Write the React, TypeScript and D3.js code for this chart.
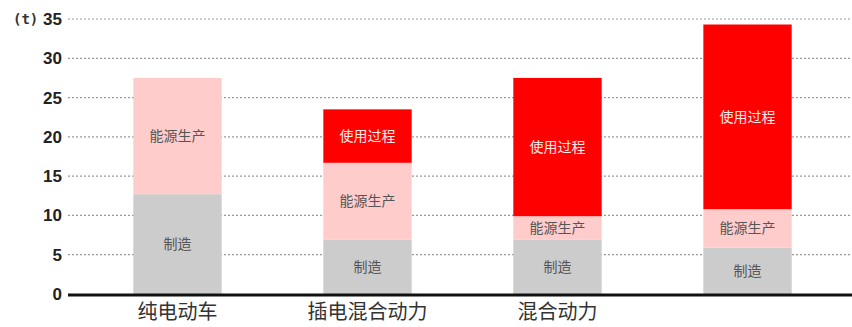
import React, { useRef, useEffect } from 'react';
import * as d3 from 'd3';

const categories = ['纯电动车', '插电混合动力', '混合动力', ''];
const seriesNames = ['制造', '能源生产', '使用过程'];
const manufacture = [12.7, 6.9, 6.9, 5.9];
const energy = [14.8, 9.8, 3.0, 4.9];
const usage = [0, 6.8, 17.6, 23.5];
const yTicks = [0, 5, 10, 15, 20, 25, 30, 35];
const colors = ['#cccccc', '#ffcccc', '#ff0000'];
const textColors = ['#555555', '#555555', '#ffe8e8'];

const App = () => {
  const svgRef = useRef<SVGSVGElement>(null);

  useEffect(() => {
    const width = 852;
    const svg = d3.select(svgRef.current);
    svg.selectAll('*').remove();

    const rows = categories.map((c, i) => ({
      cat: c,
      制造: manufacture[i],
      能源生产: energy[i],
      使用过程: usage[i],
    }));

    const x = d3.scaleBand().domain(categories.map((c, i) => String(i)))
      .range([82, 843]).paddingInner(0.535).paddingOuter(0.27);
    const y = d3.scaleLinear().domain([0, 35]).range([294, 19]);

    // grid
    svg.append('g').selectAll('line')
      .data(yTicks.filter(t => t > 0))
      .enter().append('line')
      .attr('x1', 68).attr('x2', width)
      .attr('y1', d => y(d)).attr('y2', d => y(d))
      .attr('stroke', '#999')
      .attr('stroke-width', 1.2)
      .attr('stroke-dasharray', '2,2');

    svg.append('g').selectAll('text')
      .data(yTicks)
      .enter().append('text')
      .attr('x', 62).attr('y', d => y(d))
      .attr('dy', '0.35em')
      .attr('text-anchor', 'end')
      .attr('font-family', 'Liberation Sans, Arial, sans-serif')
      .attr('font-weight', 'bold')
      .attr('font-size', 17)
      .attr('fill', '#222')
      .text(d => d);

    svg.append('text')
      .attr('x', 13).attr('y', y(35))
      .attr('dy', '0.35em')
      .attr('font-family', 'DejaVu Sans Mono, monospace')
      .attr('font-weight', 'bold')
      .attr('font-size', 14)
      .attr('fill', '#333')
      .text('(t)');

    const stack = d3.stack<any>().keys(seriesNames);
    const layers = stack(rows);

    layers.forEach((layer, li) => {
      const g = svg.append('g');
      layer.forEach((d, i) => {
        if (d[1] - d[0] <= 0) return;
        g.append('rect')
          .attr('x', x(String(i))!)
          .attr('width', x.bandwidth())
          .attr('y', y(d[1]))
          .attr('height', y(d[0]) - y(d[1]))
          .attr('fill', colors[li]);
        g.append('text')
          .attr('x', x(String(i))! + x.bandwidth() / 2)
          .attr('y', (y(d[0]) + y(d[1])) / 2)
          .attr('dy', '0.35em')
          .attr('text-anchor', 'middle')
          .attr('font-family', 'Noto Sans CJK SC, sans-serif')
          .attr('font-size', 14)
          .attr('fill', textColors[li])
          .text(seriesNames[li]);
      });
    });

    // baseline
    svg.append('line')
      .attr('x1', 68).attr('x2', width)
      .attr('y1', y(0) + 1).attr('y2', y(0) + 1)
      .attr('stroke', '#111')
      .attr('stroke-width', 3);

    svg.append('g').selectAll('text')
      .data(categories)
      .enter().append('text')
      .attr('x', (d, i) => x(String(i))! + x.bandwidth() / 2)
      .attr('y', 319)
      .attr('text-anchor', 'middle')
      .attr('font-family', 'Noto Sans CJK SC, sans-serif')
      .attr('font-size', 20)
      .attr('fill', '#333')
      .text(d => d);
  }, []);

  return (
    <svg ref={svgRef} width={852} height={327}
      style={{ position: 'absolute', left: 0, top: 0, background: '#fff' }} />
  );
};

export default App;
